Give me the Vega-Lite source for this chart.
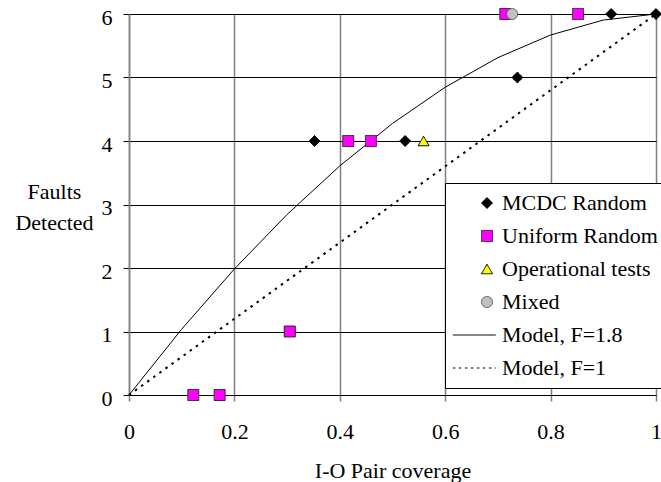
{
  "$schema": "https://vega.github.io/schema/vega-lite/v6.json",
  "width": 527,
  "height": 381,
  "autosize": {"type": "none"},
  "padding": {"left": 129, "top": 14, "right": 5, "bottom": 87},
  "background": "white",
  "config": {
    "view": {"stroke": null},
    "font": "Liberation Serif",
    "axis": {
      "labelFont": "Liberation Serif",
      "labelFontSize": 22,
      "labelColor": "black",
      "labelFlush": false,
      "labelOverlap": false,
      "titleFont": "Liberation Serif",
      "titleFontSize": 22,
      "titleFontWeight": "normal",
      "titleColor": "black",
      "tickSize": 6
    },
    "legend": {
      "orient": "none",
      "legendX": 316,
      "legendY": 169,
      "padding": 9,
      "rowPadding": 11,
      "symbolOffset": 22,
      "labelOffset": 4,
      "labelFont": "Liberation Serif",
      "labelFontSize": 22,
      "labelColor": "black",
      "labelLimit": 300,
      "strokeColor": "black",
      "fillColor": "white",
      "symbolSize": 121,
      "symbolOpacity": 1
    }
  },
  "datasets": {
    "observed": [
      {"series": "MCDC Random", "coverage": 0.352, "faults": 4},
      {"series": "MCDC Random", "coverage": 0.524, "faults": 4},
      {"series": "MCDC Random", "coverage": 0.737, "faults": 5},
      {"series": "MCDC Random", "coverage": 0.915, "faults": 6},
      {"series": "MCDC Random", "coverage": 1.0, "faults": 6},
      {"series": "Uniform Random", "coverage": 0.122, "faults": 0},
      {"series": "Uniform Random", "coverage": 0.172, "faults": 0},
      {"series": "Uniform Random", "coverage": 0.305, "faults": 1},
      {"series": "Uniform Random", "coverage": 0.416, "faults": 4},
      {"series": "Uniform Random", "coverage": 0.459, "faults": 4},
      {"series": "Uniform Random", "coverage": 0.714, "faults": 6},
      {"series": "Uniform Random", "coverage": 0.852, "faults": 6},
      {"series": "Operational tests", "coverage": 0.559, "faults": 4},
      {"series": "Mixed", "coverage": 0.727, "faults": 6}
    ],
    "model_f18": [
      {"coverage": 0.0, "faults": 0},
      {"coverage": 0.1, "faults": 1.037},
      {"coverage": 0.2, "faults": 1.985},
      {"coverage": 0.3, "faults": 2.843},
      {"coverage": 0.4, "faults": 3.608},
      {"coverage": 0.5, "faults": 4.277},
      {"coverage": 0.6, "faults": 4.847},
      {"coverage": 0.7, "faults": 5.313},
      {"coverage": 0.8, "faults": 5.669},
      {"coverage": 0.9, "faults": 5.905},
      {"coverage": 1.0, "faults": 6}
    ],
    "model_f1": [
      {"coverage": 0.0, "faults": 0},
      {"coverage": 1.0, "faults": 6}
    ]
  },
  "encoding": {
    "x": {
      "field": "coverage",
      "type": "quantitative",
      "scale": {"domain": [0, 1], "nice": false, "zero": false},
      "axis": {
        "title": "I-O Pair coverage",
        "values": [0, 0.2, 0.4, 0.6, 0.8, 1],
        "format": "~g",
        "grid": true,
        "gridColor": "#808080",
        "gridWidth": 1.5,
        "gridOpacity": 1,
        "tickColor": "#808080",
        "tickWidth": 1.5,
        "domainColor": "black",
        "domainWidth": 1,
        "labelBaseline": "alphabetic",
        "labelPadding": 37,
        "titleX": 263.5,
        "titleY": 82,
        "titleAlign": "center",
        "titleBaseline": "alphabetic"
      }
    },
    "y": {
      "field": "faults",
      "type": "quantitative",
      "scale": {"domain": [0, 6], "nice": false},
      "axis": {
        "title": ["Faults", "Detected"],
        "values": [0, 1, 2, 3, 4, 5, 6],
        "format": "d",
        "grid": true,
        "gridColor": "black",
        "gridWidth": 1,
        "gridOpacity": 1,
        "tickColor": "black",
        "tickWidth": 1,
        "domainColor": "#808080",
        "domainWidth": 1.5,
        "labelPadding": 11,
        "labelOffset": 3,
        "titleAngle": 0,
        "titleAlign": "center",
        "titleBaseline": "alphabetic",
        "titleLineHeight": 31,
        "titleX": -75,
        "titleY": 184
      }
    }
  },
  "layer": [
    {
      "data": {"name": "model_f1"},
      "mark": {"type": "line", "color": "black", "strokeWidth": 2, "strokeDash": [2.5, 5]}
    },
    {
      "data": {"name": "model_f18"},
      "mark": {"type": "line", "color": "black", "strokeWidth": 1}
    },
    {
      "data": {"name": "observed"},
      "mark": {"type": "point", "filled": true, "opacity": 1, "size": 121},
      "encoding": {
        "shape": {
          "field": "series",
          "type": "nominal",
          "scale": {
            "domain": ["MCDC Random", "Uniform Random", "Operational tests", "Mixed", "Model, F=1.8", "Model, F=1"],
            "range": ["diamond", "square", "triangle-up", "circle", "M-6.2,0H1.6", "M-6.2,0H1.6"]
          },
          "legend": {"title": null}
        },
        "fill": {
          "field": "series",
          "type": "nominal",
          "scale": {
            "domain": ["MCDC Random", "Uniform Random", "Operational tests", "Mixed", "Model, F=1.8", "Model, F=1"],
            "range": ["black", "#FF00FF", "#FFFF00", "#C0C0C0", "transparent", "transparent"]
          },
          "legend": {"title": null}
        },
        "stroke": {
          "field": "series",
          "type": "nominal",
          "scale": {
            "domain": ["MCDC Random", "Uniform Random", "Operational tests", "Mixed", "Model, F=1.8", "Model, F=1"],
            "range": ["black", "#202020", "black", "#555555", "black", "black"]
          },
          "legend": {"title": null}
        },
        "strokeDash": {
          "field": "series",
          "type": "nominal",
          "scale": {
            "domain": ["MCDC Random", "Uniform Random", "Operational tests", "Mixed", "Model, F=1.8", "Model, F=1"],
            "range": [[1, 0], [1, 0], [1, 0], [1, 0], [1, 0], [2.5, 3.5]]
          },
          "legend": {"title": null}
        },
        "strokeWidth": {
          "field": "series",
          "type": "ordinal",
          "sort": ["MCDC Random", "Uniform Random", "Operational tests", "Mixed", "Model, F=1.8", "Model, F=1"],
          "scale": {
            "domain": ["MCDC Random", "Uniform Random", "Operational tests", "Mixed", "Model, F=1.8", "Model, F=1"],
            "range": [1, 1, 1, 1, 1, 2]
          },
          "legend": {"title": null}
        }
      }
    }
  ]
}
